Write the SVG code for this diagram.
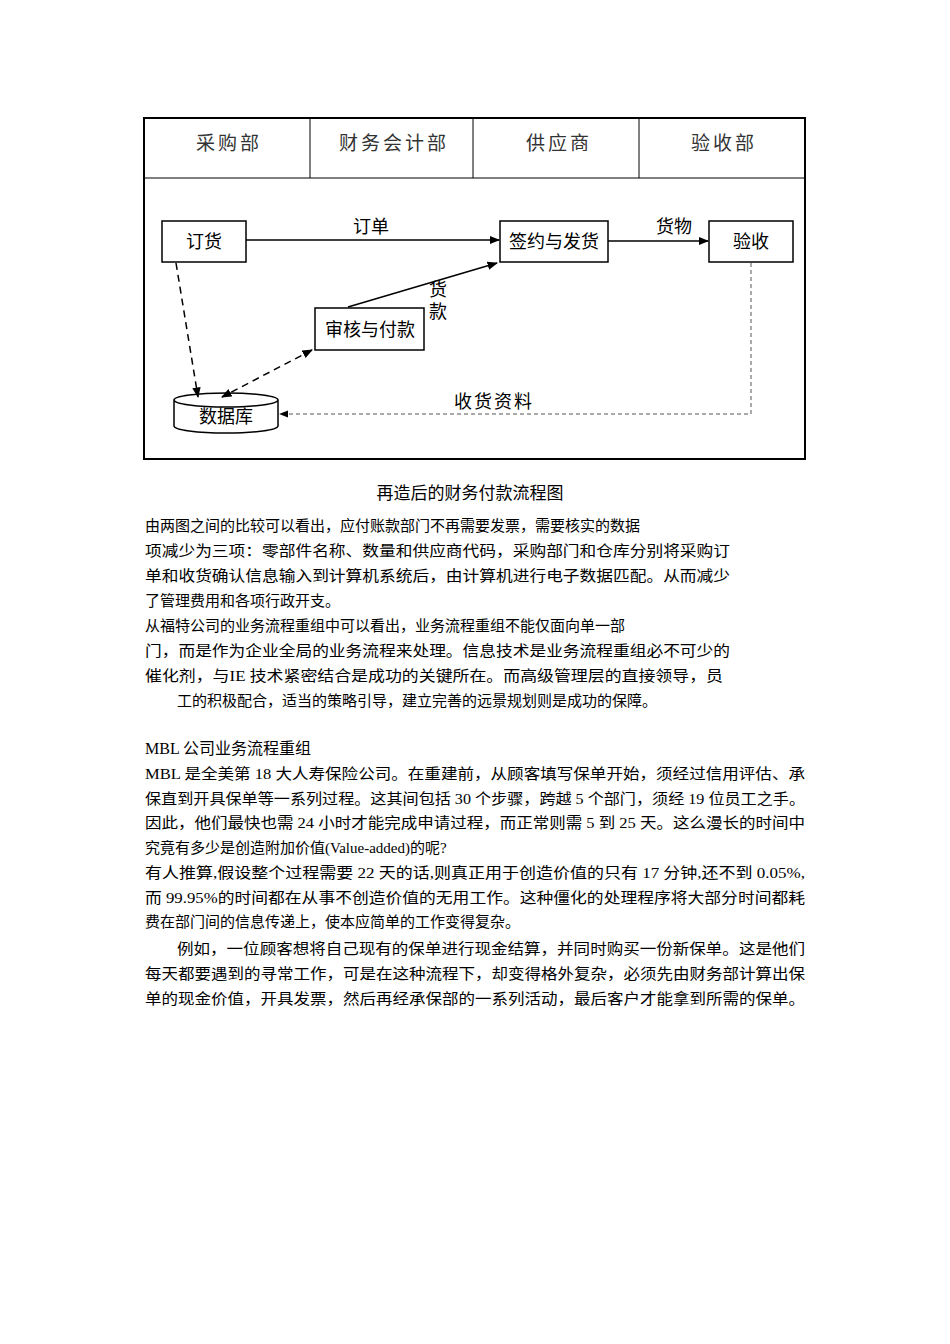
<svg xmlns="http://www.w3.org/2000/svg" width="950" height="1344" viewBox="0 0 950 1344">
<style>
text{font-family:"Liberation Serif","Noto Sans CJK SC",serif;fill:#000}
.h{font-size:19px;text-anchor:middle;fill:#333;letter-spacing:3px}
.n{font-size:18px;text-anchor:middle}
.b{font-size:15px}
.box{fill:#fff;stroke:#000;stroke-width:1.5}
.s{stroke:#000;fill:none;stroke-width:1.5}
.d{stroke:#000;fill:none;stroke-width:1.5;stroke-dasharray:7,5}
.t{stroke:#555;fill:none;stroke-width:1;stroke-dasharray:4,3}
</style>
<defs><marker id="a" viewBox="0 0 10 10" refX="9" refY="5" markerWidth="7" markerHeight="7" orient="auto-start-reverse"><path d="M0,1 L10,5 L0,9 z" fill="#000"/></marker>
<marker id="b" viewBox="0 0 10 10" refX="9" refY="5" markerWidth="9" markerHeight="9" orient="auto"><path d="M0,1 L10,5 L0,9 z" fill="#000"/></marker></defs>
<rect width="950" height="1344" fill="#fff"/>
<g id="frame">
<rect x="144" y="118" width="661" height="341" fill="none" stroke="#000" stroke-width="2"/>
<line x1="144" y1="178" x2="805" y2="178" stroke="#000"/>
<line x1="310" y1="118" x2="310" y2="178" stroke="#000"/>
<line x1="473" y1="118" x2="473" y2="178" stroke="#000"/>
<line x1="639" y1="118" x2="639" y2="178" stroke="#000"/>
<text class="h" x="229" y="150">采购部</text>
<text class="h" x="394" y="150">财务会计部</text>
<text class="h" x="559" y="150">供应商</text>
<text class="h" x="724" y="150">验收部</text>
</g>
<g id="n1"><rect class="box" x="162" y="221" width="84" height="41"/><text class="n" x="204" y="248">订货</text></g>
<g id="n2"><rect class="box" x="500" y="221" width="108" height="41"/><text class="n" x="554" y="248">签约与发货</text></g>
<g id="n3"><rect class="box" x="709" y="221" width="84" height="41"/><text class="n" x="751" y="248">验收</text></g>
<g id="n4"><rect class="box" x="315" y="308" width="109" height="42"/><text class="n" x="370" y="336">审核与付款</text></g>
<g id="n5"><path class="box" d="M174,400 L174,426 A52,7 0 0 0 278,426 L278,400 A52,7 0 0 0 174,400 A52,7 0 0 0 278,400"/><text class="n" x="226" y="423" font-size="16">数据库</text></g>
<g id="connectors">
<line class="s" x1="246" y1="240" x2="499" y2="240" marker-end="url(#a)"/>
<line class="s" x1="608" y1="241" x2="708" y2="241" stroke-width="2.5" marker-end="url(#a)"/>
<line class="s" x1="348" y1="307" x2="497" y2="263" marker-end="url(#a)"/>
<line class="d" x1="176" y1="263" x2="198" y2="397" marker-end="url(#a)"/>
<line class="d" x1="312" y1="350" x2="222" y2="397" marker-end="url(#a)" marker-start="url(#a)"/>
<polyline class="t" points="751,263 751,414 280,414" marker-end="url(#b)"/>
<text class="n" x="371" y="233">订单</text>
<text class="n" x="674" y="233">货物</text>
<text class="n" x="438" y="296" font-size="16">货</text>
<text class="n" x="438" y="318" font-size="16">款</text>
<text class="n" x="494" y="408" font-size="16" letter-spacing="2">收货资料</text>
</g>
<g id="text">
<text x="470" y="499" font-size="17" text-anchor="middle">再造后的财务付款流程图</text>
<text class="b" x="145" y="531">由两图之间的比较可以看出，应付账款部门不再需要发票，需要核实的数据</text>
<text class="b" x="145" y="556" textLength="585" lengthAdjust="spacingAndGlyphs">项减少为三项：零部件名称、数量和供应商代码，采购部门和仓库分别将采购订</text>
<text class="b" x="145" y="581" textLength="585" lengthAdjust="spacingAndGlyphs">单和收货确认信息输入到计算机系统后，由计算机进行电子数据匹配。从而减少</text>
<text class="b" x="145" y="606">了管理费用和各项行政开支。</text>
<text class="b" x="145" y="631">从福特公司的业务流程重组中可以看出，业务流程重组不能仅面向单一部</text>
<text class="b" x="145" y="656" textLength="585" lengthAdjust="spacingAndGlyphs">门，而是作为企业全局的业务流程来处理。信息技术是业务流程重组必不可少的</text>
<text class="b" x="145" y="681" textLength="578" lengthAdjust="spacingAndGlyphs">催化剂，与IE 技术紧密结合是成功的关键所在。而高级管理层的直接领导，员</text>
<text class="b" x="177" y="706">工的积极配合，适当的策略引导，建立完善的远景规划则是成功的保障。</text>
<text x="145" y="754" font-size="16">MBL 公司业务流程重组</text>
<text class="b" x="145" y="779" textLength="660" lengthAdjust="spacingAndGlyphs">MBL 是全美第 18 大人寿保险公司。在重建前，从顾客填写保单开始，须经过信用评估、承</text>
<text class="b" x="145" y="804" textLength="660" lengthAdjust="spacingAndGlyphs">保直到开具保单等一系列过程。这其间包括 30 个步骤，跨越 5 个部门，须经 19 位员工之手。</text>
<text class="b" x="145" y="828" textLength="660" lengthAdjust="spacingAndGlyphs">因此，他们最快也需 24 小时才能完成申请过程，而正常则需 5 到 25 天。这么漫长的时间中</text>
<text class="b" x="145" y="853">究竟有多少是创造附加价值(Value-added)的呢?</text>
<text class="b" x="145" y="878" textLength="660" lengthAdjust="spacingAndGlyphs">有人推算,假设整个过程需要 22 天的话,则真正用于创造价值的只有 17 分钟,还不到 0.05%,</text>
<text class="b" x="145" y="903" textLength="660" lengthAdjust="spacingAndGlyphs">而  99.95%的时间都在从事不创造价值的无用工作。这种僵化的处理程序将大部分时间都耗</text>
<text class="b" x="145" y="927">费在部门间的信息传递上，使本应简单的工作变得复杂。</text>
<text class="b" x="177" y="954" textLength="628" lengthAdjust="spacingAndGlyphs">例如，一位顾客想将自己现有的保单进行现金结算，并同时购买一份新保单。这是他们</text>
<text class="b" x="145" y="979" textLength="660" lengthAdjust="spacingAndGlyphs">每天都要遇到的寻常工作，可是在这种流程下，却变得格外复杂，必须先由财务部计算出保</text>
<text class="b" x="145" y="1004" textLength="660" lengthAdjust="spacingAndGlyphs">单的现金价值，开具发票，然后再经承保部的一系列活动，最后客户才能拿到所需的保单。</text>
</g>
</svg>
